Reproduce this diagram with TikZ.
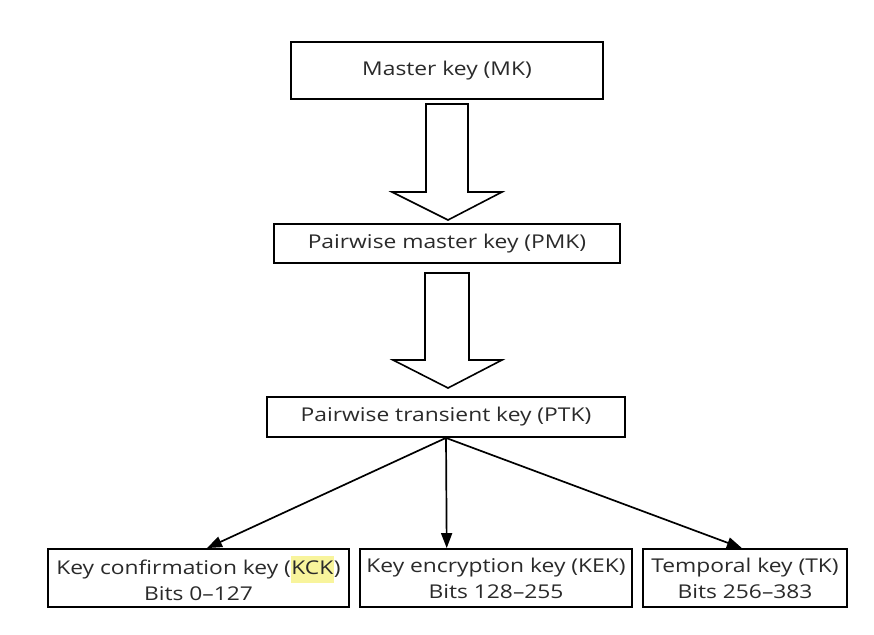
\documentclass[tikz,border=0pt]{standalone}
\usepackage{fontspec}
\setmainfont[FakeStretch=1.2]{Open Sans}
\usetikzlibrary{arrows.meta,calc}
\definecolor{txt}{HTML}{2A2A2A}
\definecolor{hl}{HTML}{F8F49C}
\begin{document}
\begin{tikzpicture}[x=1pt,y=-1pt,
  box/.style={draw=black,line width=1.8pt,fill=white,inner sep=0pt,text=txt,font=\fontsize{19}{26}\selectfont,align=center},
  blockarrow/.style={draw=black,line width=1.6pt,fill=white,line join=miter},
  conn/.style={line width=1.7pt,-{Triangle[length=15pt,width=11pt]}}]
\useasboundingbox (0,0) rectangle (874,634);
\node[box,minimum width=312pt,minimum height=57pt] (mk) at (447,70.5) {Master key (MK)};
\node[box,minimum width=346pt,minimum height=39pt] (pmk) at (447,243.5) {Pairwise master key (PMK)};
\node[box,minimum width=358pt,minimum height=40pt] (ptk) at (446,417) {Pairwise transient key (PTK)};
\node[box,minimum width=301pt,minimum height=58pt] (kck) at (198.5,578) {Key confirmation key ({\setlength{\fboxsep}{0.5pt}\colorbox{hl}{\strut KCK}})\\Bits 0--127};
\node[box,minimum width=272pt,minimum height=58pt] (kek) at (496,578) {Key encryption key (KEK)\\Bits 128--255};
\node[box,minimum width=204pt,minimum height=58pt] (tk) at (745,578) {Temporal key (TK)\\Bits 256--383};
% block arrows
\draw[blockarrow] (426,104) -- (468,104) -- (468,192) -- (502,192) -- (448,220) -- (392,192) -- (426,192) -- cycle;
\draw[blockarrow] (425,273) -- (469,273) -- (469,360) -- (502,360) -- (448,388) -- (393,360) -- (425,360) -- cycle;
% connectors
\draw[conn] (ptk.south) -- ($(kck.north west)!0.528!(kck.north east)$);
\draw[conn] (ptk.south) -- ($(kek.north west)!0.32!(kek.north east)$);
\draw[conn] (ptk.south) -- ($(tk.north west)!0.485!(tk.north east)$);
\end{tikzpicture}
\end{document}
